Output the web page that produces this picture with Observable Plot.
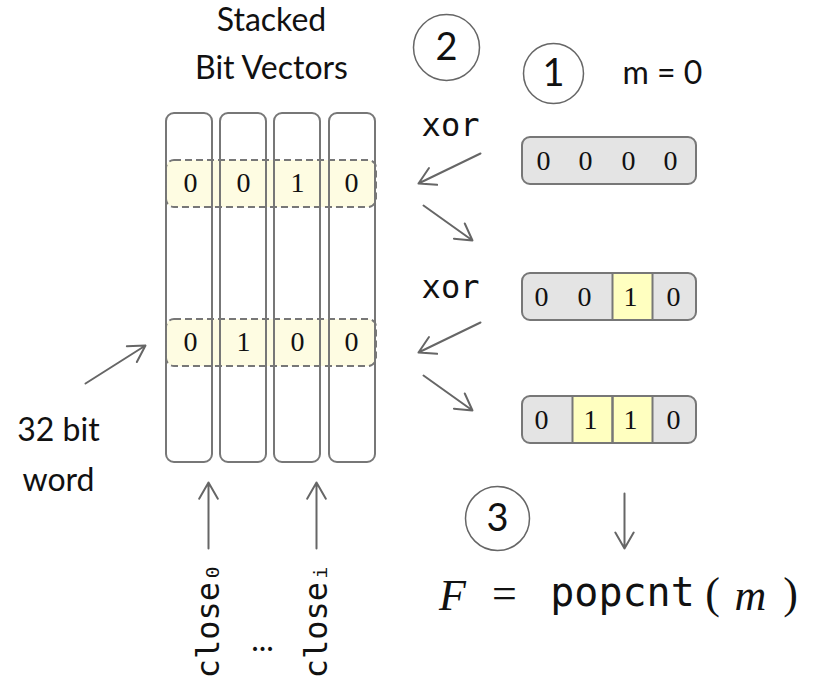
<!DOCTYPE html>
<html><head><meta charset="utf-8">
<script src="https://cdn.jsdelivr.net/npm/d3@7"></script>
<script src="https://cdn.jsdelivr.net/npm/@observablehq/plot@0.6"></script>
<style>body{margin:0;background:#fff}</style>
</head><body><div id="chart"></div>
<script>
// stacked bit vector columns
const columns = [{x1:166,x2:212},{x1:220,x2:266},{x1:274,x2:320},{x1:329,x2:375}];
const colY = [113, 462];
// highlighted 32-bit words
const words = [{y1:160,y2:207,bits:[0,0,1,0],y:183},{y1:319,y2:366,bits:[0,1,0,0],y:342}];
const wordBitX = [190,243,297,351];
// m register states
const regs = [
  {y1:137,y2:184,bits:[0,0,0,0],bx:[543,585,628,670],hl:[]},
  {y1:273,y2:320,bits:[0,0,1,0],bx:[541,584,630,673],hl:[[612,652]]},
  {y1:396,y2:443,bits:[0,1,1,0],bx:[541,590,630,673],hl:[[572,612],[612,652]]}
];
const regX = [522,696];
const arrows = [
  {x1:480,y1:153,x2:418,y2:183},{x1:423,y1:205,x2:472,y2:240},
  {x1:480,y1:322,x2:418,y2:352},{x1:423,y1:375,x2:472,y2:410},
  {x1:85,y1:383,x2:145,y2:345},
  {x1:208,y1:548,x2:208,y2:482},{x1:316,y1:548,x2:316,y2:482},
  {x1:624,y1:493,x2:624,y2:548}
];
const steps = [{x:446,y:47,r:33,t:"2"},{x:553,y:73,r:30,t:"1"},{x:497,y:518,r:32,t:"3"}];
const labels = [
  {x:271,y:20,t:"Stacked"},{x:271,y:68,t:"Bit Vectors"},
  {x:662,y:73,t:"m = 0"},{x:58,y:430,t:"32 bit"},{x:58,y:480,t:"word"},{x:262,y:640,t:"..."}
];
const xors = [{x:450,y:125},{x:450,y:287}];
const closes = [{x:208,y:620,t:"close₀"},{x:316,y:620,t:"closeᵢ"}];

const wordBits = words.flatMap(w => w.bits.map((b,i) => ({x:wordBitX[i],y:w.y,t:String(b)})));
const regBits = regs.flatMap(r => r.bits.map((b,i) => ({x:r.bx[i],y:(r.y1+r.y2)/2,t:String(b)})));
const regHl = regs.flatMap(r => r.hl.map(([a,b]) => ({x1:a,x2:b,y1:r.y1,y2:r.y2})));
const regDiv = regHl.flatMap(h => [h.x1,h.x2].map(x => ({x,y1:h.y1,y2:h.y2})));

const font = "Lato, 'Open Sans', sans-serif";
const mono = "'DejaVu Sans Mono', monospace";
const serif = "'Liberation Serif', serif";
const chart = Plot.plot({
  width:816, height:700, margin:0,
  x:{domain:[0,816], range:[0,816], axis:null},
  y:{domain:[0,700], range:[0,700], axis:null},
  r:{type:"identity"},
  style:{fontFamily:font, background:"#fff"},
  marks:[
    Plot.rect(words,{x1:166,x2:376,y1:"y1",y2:"y2",fill:"#fdfbd6",fillOpacity:0.7,rx:8}),
    Plot.rect(columns,{x1:"x1",x2:"x2",y1:colY[0],y2:colY[1],stroke:"#777",strokeWidth:2,fill:"none",rx:8}),
    Plot.rect(words,{x1:166,x2:376,y1:"y1",y2:"y2",stroke:"#777",strokeWidth:2,strokeDasharray:"7,4",fill:"none",rx:8}),
    Plot.text(wordBits,{x:"x",y:"y",text:"t",fontSize:28,fontFamily:serif,fill:"#111"}),
    Plot.rect(regs,{x1:regX[0],x2:regX[1],y1:"y1",y2:"y2",fill:"#e4e4e4",rx:8}),
    Plot.rect(regHl,{x1:"x1",x2:"x2",y1:"y1",y2:"y2",fill:"#ffffc0"}),
    Plot.ruleX(regDiv,{x:"x",y1:"y1",y2:"y2",stroke:"#777",strokeWidth:2}),
    Plot.rect(regs,{x1:regX[0],x2:regX[1],y1:"y1",y2:"y2",stroke:"#777",strokeWidth:2,fill:"none",rx:8}),
    Plot.text(regBits,{x:"x",y:"y",text:"t",fontSize:28,fontFamily:serif,fill:"#111"}),
    Plot.arrow(arrows,{x1:"x1",y1:"y1",x2:"x2",y2:"y2",stroke:"#666",strokeWidth:2,headLength:14}),
    Plot.dot(steps,{x:"x",y:"y",r:"r",stroke:"#666",strokeWidth:1.5,fill:"none"}),
    Plot.text(steps,{x:"x",y:"y",text:"t",fontSize:38,fill:"#111"}),
    Plot.text(labels,{x:"x",y:"y",text:"t",fontSize:32,fill:"#111"}),
    Plot.text(xors,{x:"x",y:"y",text:()=>"xor",fontSize:32,fontFamily:mono,fill:"#111"}),
    Plot.text(closes,{x:"x",y:"y",text:"t",rotate:-90,fontSize:32,fontFamily:mono,fill:"#111"}),
    Plot.text([{x:452,t:"F"},{x:750,t:"m"}],{x:"x",y:595,text:"t",fontSize:44,fontStyle:"italic",fontFamily:serif,fill:"#111"}),
    Plot.text([{x:504,t:"="},{x:712,t:"("},{x:790,t:")"}],{x:"x",y:593,text:"t",fontSize:44,fontFamily:serif,fill:"#111"}),
    Plot.text([{x:622,t:"popcnt"}],{x:"x",y:593,text:"t",fontSize:40,fontFamily:mono,fill:"#111"})
  ]
});
document.getElementById("chart").append(chart);
</script></body></html>
